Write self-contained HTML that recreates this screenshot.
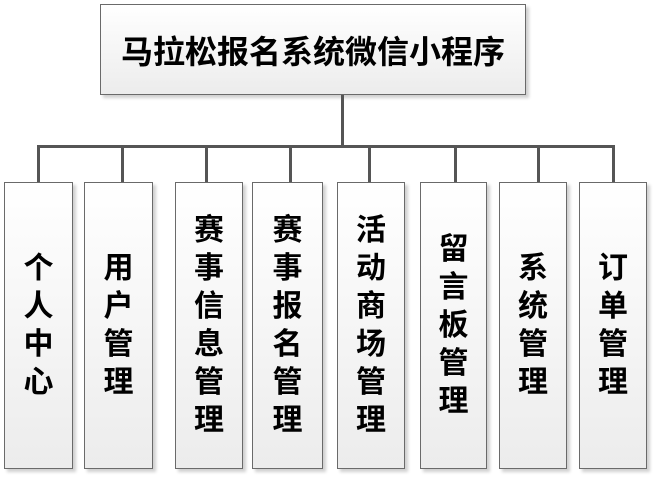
<!DOCTYPE html>
<html><head><meta charset="utf-8"><style>
body{margin:0;width:656px;height:478px;background:#fff;position:relative;overflow:hidden;font-family:"Liberation Sans","Noto Sans CJK SC",sans-serif;}
.b{position:absolute;box-sizing:border-box;border:1.5px solid #6a6a6a;background:linear-gradient(#ffffff,#ececec);box-shadow:3px 3px 3px #d0d0d0;display:flex;align-items:center;justify-content:center;color:#000;font-weight:bold;}
.v{top:182px;height:287px;font-size:30px;line-height:38px;text-align:center;}
.v span{display:block;width:32px;}
.l{position:absolute;background:#555;}
</style></head><body>
<div class="b" style="left:100px;top:4px;width:426px;height:91px;font-size:32px;letter-spacing:0px;">马拉松报名系统微信小程序</div>
<div class="l" style="left:341px;top:95px;width:3px;height:53px"></div>
<div class="l" style="left:37px;top:145px;width:578px;height:3px"></div>
<div class="l" style="left:37px;top:145px;width:3px;height:38px"></div>
<div class="l" style="left:121px;top:145px;width:3px;height:38px"></div>
<div class="l" style="left:205px;top:145px;width:3px;height:38px"></div>
<div class="l" style="left:289px;top:145px;width:3px;height:38px"></div>
<div class="l" style="left:368px;top:145px;width:3px;height:38px"></div>
<div class="l" style="left:454px;top:145px;width:3px;height:38px"></div>
<div class="l" style="left:537px;top:145px;width:3px;height:38px"></div>
<div class="l" style="left:612px;top:145px;width:3px;height:38px"></div>
<div class="b v" style="left:4px;width:69px"><span>个人中心</span></div>
<div class="b v" style="left:84px;width:69px"><span>用户管理</span></div>
<div class="b v" style="left:175px;width:68px"><span>赛事信息管理</span></div>
<div class="b v" style="left:252px;width:71px"><span>赛事报名管理</span></div>
<div class="b v" style="left:337px;width:68px"><span>活动商场管理</span></div>
<div class="b v" style="left:420px;width:67px"><span>留言板管理</span></div>
<div class="b v" style="left:499px;width:68px"><span>系统管理</span></div>
<div class="b v" style="left:579px;width:68px"><span>订单管理</span></div>
</body></html>
